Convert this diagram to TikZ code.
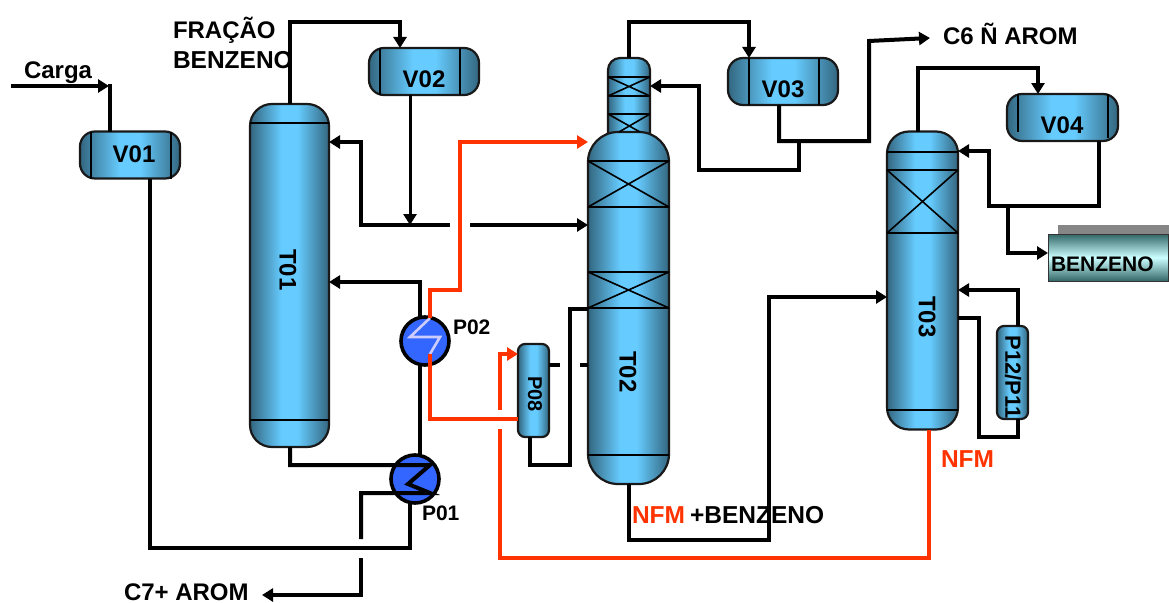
\documentclass[tikz,border=0pt]{standalone}
\usepackage{fontspec}
\setmainfont{Liberation Sans}
\usetikzlibrary{arrows.meta}
\definecolor{vdark}{HTML}{33667F}
\definecolor{vlight}{HTML}{66CCFF}
\definecolor{nfmred}{HTML}{FF3300}
\definecolor{pumpblue}{HTML}{3366FF}
\definecolor{coil}{HTML}{CCCCFF}
\definecolor{tankedge}{HTML}{336666}
\definecolor{tanklight}{HTML}{CCFFFF}
\pgfdeclarehorizontalshading{vesselshade}{100bp}{color(0bp)=(vdark); color(25bp)=(vdark); color(45bp)=(vlight); color(55bp)=(vlight); color(75bp)=(vdark); color(100bp)=(vdark)}
\pgfdeclareverticalshading{tankshade}{100bp}{color(0bp)=(tankedge); color(25bp)=(tankedge); color(50bp)=(tanklight); color(75bp)=(tankedge); color(100bp)=(tankedge)}
\tikzset{
  x=1pt,y=-1pt,
  vessel/.style={draw=black!90,line width=2.2pt,shading=vesselshade,inner sep=0,outer sep=0},
  drum/.style={vessel,rounded corners=15pt,minimum width=#1,minimum height=47pt},
  drum/.default=100pt,
  tower/.style={vessel,rounded corners=22pt},
  pot/.style={vessel,rounded corners=7pt,minimum width=31pt,minimum height=93pt},
  exch/.style={circle,draw=black,line width=3.6pt,fill=pumpblue,minimum size=48pt,inner sep=0,outer sep=0},
  inner/.style={line width=1.6pt,black},
  pipe/.style={line width=4pt,black},
  thinpipe/.style={line width=3pt,black},
  redpipe/.style={line width=4pt,nfmred},
  tip/.style={-{Triangle[length=11pt,width=13pt]}},
  txt/.style={font=\fontsize{#1}{#1}\selectfont\bfseries,inner sep=0,outer sep=0},
  txt/.default=24pt,
}
\begin{document}
\begin{tikzpicture}
\useasboundingbox (0,0) rectangle (1169,602);
% equipment
\node[drum=100pt] (v01) at (130,155) {};
\node[drum=110pt] (v02) at (424,71.5) {};
\node[drum=110pt] (v03) at (783,81.5) {};
\node[drum=111pt] (v04) at (1062.5,117.5) {};
\node[tower,minimum width=79pt,minimum height=343pt] (t01) at (289.5,275.5) {};
\node[vessel,rounded corners=12pt,minimum width=42pt,minimum height=90pt] (t02n) at (629,103) {};
\node[vessel,rounded corners=30pt,minimum width=81pt,minimum height=352pt] (t02) at (628.5,308) {};
\node[tower,minimum width=71pt,minimum height=298pt] (t03) at (922.5,280.5) {};
\node[pot] (p08) at (533.5,390.5) {};
\node[pot] (p12) at (1012.5,372.5) {};
\node[exch] (p02) at (425,341) {};
\node[exch] (p01) at (415,479) {};
\fill[gray!95] (1058,225) rectangle (1169,235);
\node[draw=black!80,line width=1pt,shading=tankshade,minimum width=120pt,minimum height=47pt,inner sep=0,outer sep=0] (tank) at (1108,257.5) {};
% vessel internals
\draw[inner] (91,0 |- v01.north) -- (91,0 |- v01.south) (171,0 |- v01.north) -- (171,0 |- v01.south);
\draw[inner] (380,0 |- v02.north) -- (380,0 |- v02.south) (460,0 |- v02.north) -- (460,0 |- v02.south);
\draw[inner] (749,0 |- v03.north) -- (749,0 |- v03.south) (819,0 |- v03.north) -- (819,0 |- v03.south);
\draw[inner] (1018,0 |- v04.north) -- (1018,132) (1108,0 |- v04.north) -- (1108,138);
\draw[inner] (t01.west |- 0,123) -- (t01.east |- 0,123) (t01.west |- 0,420) -- (t01.east |- 0,420);
\draw[inner] (t02n.west |- 0,77) -- (t02n.east |- 0,77) (t02n.west |- 0,96) -- (t02n.east |- 0,96) (t02n.west |- 0,77) -- (t02n.east |- 0,96) (t02n.west |- 0,96) -- (t02n.east |- 0,77);
\draw[inner] (t02n.west |- 0,114) -- (t02n.east |- 0,114) (t02n.west |- 0,114) -- (640,132) (t02n.east |- 0,114) -- (619,132);
\draw[inner] (t02.west |- 0,161) -- (t02.east |- 0,161) (t02.west |- 0,207) -- (t02.east |- 0,207) (t02.west |- 0,161) -- (t02.east |- 0,207) (t02.west |- 0,207) -- (t02.east |- 0,161);
\draw[inner] (t02.west |- 0,272) -- (t02.east |- 0,272) (t02.west |- 0,308) -- (t02.east |- 0,308) (t02.west |- 0,272) -- (t02.east |- 0,308) (t02.west |- 0,308) -- (t02.east |- 0,272);
\draw[inner] (t02.west |- 0,455) -- (t02.east |- 0,455);
\draw[inner] (t03.west |- 0,152) -- (t03.east |- 0,152);
\draw[inner] (t03.west |- 0,170) -- (t03.east |- 0,170) (t03.west |- 0,233) -- (t03.east |- 0,233) (t03.west |- 0,170) -- (t03.east |- 0,233) (t03.west |- 0,233) -- (t03.east |- 0,170);
\draw[inner] (t03.west |- 0,410) -- (t03.east |- 0,410);
% free ends and junctions
\coordinate (cargain) at (11,86);
\coordinate (c7out) at (262,595);
\coordinate (c6out) at (930,38);
\coordinate (gapAleft) at (450,225);
\coordinate (gapAright) at (470,225);
\coordinate (j225) at (410,225);
\coordinate (j141) at (799,141);
\coordinate (j206) at (1008,206);
\coordinate (gapBtop) at (361,539);
\coordinate (gapBbot) at (361,558);
\coordinate (gapCtop) at (500,410);
\coordinate (gapCbot) at (500,429);
\coordinate (stubA) at (560,365);
\coordinate (stubB) at (580,365);
% black pipes
\draw[pipe,tip] (cargain) -- (109,86);
\draw[pipe] (110,84) -- (110,0 |- v01.north);
\draw[pipe] (150,0 |- v01.south) -- (150,548) -- (410,548) -- (410,0 |- p01.south);
\draw[pipe,tip] (290,0 |- t01.north) -- (290,22) -- (400,22) -- (400,0 |- v02.north);
\draw[thinpipe,tip] (410,0 |- v02.south) -- (j225);
\draw[pipe,tip] (gapAleft) -- (361,225) -- (361,142) -- (t01.east |- 0,142);
\draw[pipe,tip] (gapAright) -- (t02.west |- gapAright);
\draw[pipe,tip] (420,0 |- p02.north) -- (420,282) -- (t01.east |- 0,282);
\draw[pipe] (420,0 |- p02.south) -- (420,0 |- p01.north);
\draw[pipe] (290,0 |- t01.south) -- (290,465) -- (430,465) -- (408,484) -- (430,493) -- (361,493) -- (gapBtop);
\draw[pipe,tip] (gapBbot) -- (361,595) -- (c7out);
\draw[pipe] (p08.east |- stubA) -- (stubA);
\draw[pipe] (stubB) -- (t02.west |- stubB);
\draw[pipe] (530,0 |- p08.south) -- (530,465) -- (570,465) -- (570,309) -- (t02.west |- 0,309);
\draw[pipe,tip] (629,0 |- t02n.north) -- (629,22) -- (749,22) -- (749,0 |- v03.north);
\draw[pipe,tip] (779,0 |- v03.south) -- (779,141) -- (869,141) -- (869,41) -- (c6out);
\draw[pipe,tip] (j141) -- (799,170) -- (699,170) -- (699,86) -- (t02n.east |- 0,86);
\draw[pipe,tip] (629,0 |- t02.south) -- (629,540) -- (769,540) -- (769,297) -- (t03.west |- 0,297);
\draw[pipe,tip] (918,0 |- t03.north) -- (918,68) -- (1038,68) -- (1038,0 |- v04.north);
\draw[pipe,tip] (1099,0 |- v04.south) -- (1099,206) -- (989,206) -- (989,151) -- (t03.east |- 0,151);
\draw[pipe,tip] (j206) -- (1008,253) -- (tank.west |- 0,253);
\draw[pipe,tip] (1018,0 |- p12.north) -- (1018,290) -- (t03.east |- 0,290);
\draw[pipe] (1018,0 |- p12.south) -- (1018,437) -- (979,437) -- (979,318) -- (t03.east |- 0,318);
% hot coil
\draw[line width=2.6pt,coil] (430,318) -- (410,337) -- (440,337) -- (430,354);
% red pipes
\draw[redpipe,tip] (430,318) -- (430,290) -- (460,290) -- (460,142) -- (t02.west |- 0,142);
\draw[redpipe] (430,354) -- (430,419) -- (p08.west |- 0,419);
\draw[redpipe,tip] (gapCtop) -- (500,354) -- (p08.west |- 0,354);
\draw[redpipe] (gapCbot) -- (500,558) -- (929,558) -- (929,0 |- t03.south);
% labels
\node[txt,anchor=base west] (lcarga) at (24,78) {Carga};
\node[txt,anchor=base west] (lfrac) at (173,38) {FRAÇÃO};
\node[txt=24.5pt,anchor=base west] (lbenz) at (173,68) {BENZENO};
\node[txt,anchor=base] (lv01) at (134,162) {V01};
\node[txt,anchor=base] (lv02) at (424,87) {V02};
\node[txt,anchor=base] (lv03) at (783,97) {V03};
\node[txt,anchor=base] (lv04) at (1062,133) {V04};
\node[txt,rotate=-90] (lt01) at (288,270) {T01};
\node[txt,rotate=-90] (lt02) at (628,372) {T02};
\node[txt,rotate=-90] (lt03) at (927,317) {T03};
\node[txt=20pt,rotate=-90] (lp08) at (535,394) {P08};
\node[txt=22pt,rotate=-90] (lp12) at (1013,377) {P12/P11};
\node[txt=21pt,anchor=base west] (lp02) at (453,334) {P02};
\node[txt=21pt,anchor=base west] (lp01) at (422,520) {P01};
\node[txt,anchor=base west] (lc7) at (124,600) {C7+ AROM};
\node[txt,anchor=base west] (lc6) at (943,45) {C6 Ñ AROM};
\node[txt=21pt,anchor=base west] (ltank) at (1051,271) {BENZENO};
\node[txt=24.5pt,anchor=base west,text=nfmred] (lnfma) at (632,523) {NFM};
\node[txt=24.5pt,anchor=base west] (lplus) at (690,523) {+BENZENO};
\node[txt=24.5pt,anchor=base west,text=nfmred] (lnfmb) at (941,467) {NFM};
\end{tikzpicture}
\end{document}
